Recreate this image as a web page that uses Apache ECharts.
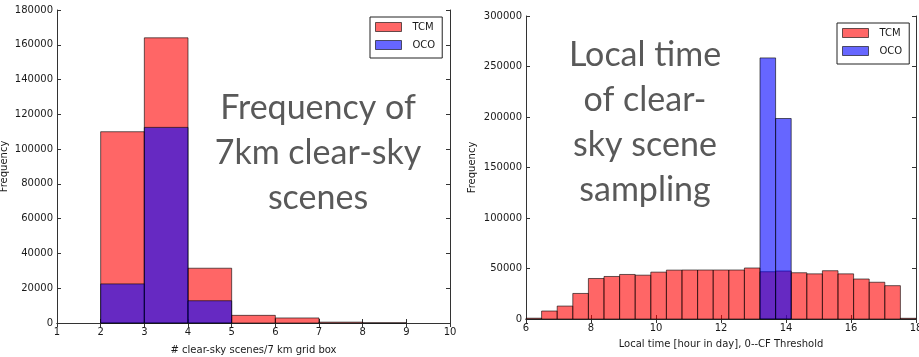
<!DOCTYPE html>
<html><head><meta charset="utf-8">
<script src="https://cdn.jsdelivr.net/npm/echarts@6/dist/echarts.min.js"></script>
<style>html,body{margin:0;padding:0;background:#fff}#c{width:919px;height:357px}</style>
</head><body><div id="c"></div>
<script>
// ---- Left panel: # clear-sky scenes per 7 km grid box ----
const leftBinEdges = [1, 2, 3, 4, 5, 6, 7, 8, 9, 10];
const leftTCM = [0, 110000, 164000, 31500, 4400, 2900, 500, 100, 0];
const leftOCO = [0, 22500, 112500, 12800, 0, 0, 0, 0, 0];
const leftXTicks = [1, 10, 1];        // min, max, interval
const leftYTicks = [0, 180000, 20000];

// ---- Right panel: local time of clear-sky scene sampling ----
const rightBinEdges = [6.00, 6.48, 6.96, 7.44, 7.92, 8.40, 8.88, 9.36, 9.84, 10.32, 10.80, 11.28, 11.76,
  12.24, 12.72, 13.20, 13.68, 14.16, 14.64, 15.12, 15.60, 16.08, 16.56, 17.04, 17.52, 18.00];
const rightTCM = [800, 7900, 12800, 25300, 40100, 42100, 44100, 43400, 46400, 48400, 48500, 48500, 48500,
  48500, 50500, 46800, 47500, 45800, 44700, 47800, 44700, 39600, 36400, 33000, 700];
const rightOCO = [0, 0, 0, 0, 0, 0, 0, 0, 0, 0, 0, 0, 0, 0, 0, 258500, 198500, 0, 0, 0, 0, 0, 0, 0, 0];
const rightXTicks = [6, 18, 2];
const rightYTicks = [0, 300000, 50000];

const seriesNames = ['TCM', 'OCO'];
const leftTitle = 'Frequency of\n7km clear-sky\nscenes';
const rightTitle = 'Local time\nof clear-\nsky scene\nsampling';

const RED = 'rgba(255,0,0,0.6)', BLUE = 'rgba(0,0,255,0.6)', EDGE = 'rgba(0,0,0,0.6)';
const TICKFONT = {fontFamily: 'DejaVu Sans', fontSize: 10, color: '#1a1a1a'};
const FRAME = '#333';
const plain = v => String(v);

function bins(edges, vals) {
  const out = [];
  for (let i = 0; i < vals.length; i++) out.push([edges[i], edges[i + 1], vals[i]]);
  return out;
}
function renderer(fill) {
  return function (params, api) {
    const y = api.value(2);
    if (!y) return null;
    const p0 = api.coord([api.value(0), y]);
    const p1 = api.coord([api.value(1), 0]);
    return {type: 'rect', shape: {x: p0[0], y: p0[1], width: p1[0] - p0[0], height: p1[1] - p0[1]},
      style: {fill: fill, stroke: EDGE, lineWidth: 1}};
  };
}
function xAxes(g, t, name, gap) {
  const base = {type: 'value', gridIndex: g, min: t[0], max: t[1], interval: t[2], splitLine: {show: false},
    axisLine: {show: true, lineStyle: {color: FRAME, width: 1}},
    axisTick: {show: true, inside: true, length: 4, lineStyle: {color: FRAME}}};
  return [
    Object.assign({}, base, {position: 'bottom', name: name, nameLocation: 'middle', nameGap: gap,
      nameTextStyle: TICKFONT, axisLabel: Object.assign({margin: 4, formatter: plain}, TICKFONT)}),
    Object.assign({}, base, {position: 'top', axisLabel: {show: false}})
  ];
}
function yAxes(g, t, gap) {
  const base = {type: 'value', gridIndex: g, min: t[0], max: t[1], interval: t[2], splitLine: {show: false},
    axisLine: {show: true, onZero: false, lineStyle: {color: FRAME, width: 1}},
    axisTick: {show: true, inside: true, length: 4, lineStyle: {color: FRAME}}};
  return [
    Object.assign({}, base, {position: 'left', name: 'Frequency', nameLocation: 'middle', nameGap: gap,
      nameRotate: 90, nameTextStyle: TICKFONT, axisLabel: Object.assign({margin: 4, formatter: plain}, TICKFONT)}),
    Object.assign({}, base, {position: 'right', axisLabel: {show: false}})
  ];
}
function legend(left, top) {
  return {left: left, top: top, orient: 'vertical', data: seriesNames, icon: 'rect',
    itemWidth: 26, itemHeight: 9, itemGap: 8, padding: [5, 7, 8, 5],
    borderColor: '#222', borderWidth: 1, backgroundColor: '#fff',
    itemStyle: {borderColor: EDGE, borderWidth: 1},
    textStyle: {fontFamily: 'DejaVu Sans', fontSize: 10, color: '#1a1a1a', padding: [0, 0, 0, 6]},
    selectedMode: false};
}

const chart = echarts.init(document.getElementById('c'), null, {renderer: 'canvas'});
chart.setOption({
  backgroundColor: '#fff',
  animation: false,
  grid: [
    {left: 57, top: 10, width: 393, height: 313, containLabel: false, outerBoundsMode: 'none'},
    {left: 526, top: 16, width: 390, height: 303, containLabel: false, outerBoundsMode: 'none'}
  ],
  xAxis: [].concat(xAxes(0, leftXTicks, '# clear-sky scenes/7 km grid box', 22),
                   xAxes(1, rightXTicks, 'Local time [hour in day], 0--CF Threshold', 20)),
  yAxis: [].concat(yAxes(0, leftYTicks, 48), yAxes(1, rightYTicks, 49)),
  legend: [legend(370, 17), legend(837, 23)],
  series: [
    {type: 'custom', name: 'TCM', xAxisIndex: 0, yAxisIndex: 0, renderItem: renderer(RED),
      itemStyle: {color: RED}, encode: {x: [0, 1], y: 2}, data: bins(leftBinEdges, leftTCM), z: 2},
    {type: 'custom', name: 'OCO', xAxisIndex: 0, yAxisIndex: 0, renderItem: renderer(BLUE),
      itemStyle: {color: BLUE}, encode: {x: [0, 1], y: 2}, data: bins(leftBinEdges, leftOCO), z: 3},
    {type: 'custom', name: 'TCM', xAxisIndex: 2, yAxisIndex: 2, renderItem: renderer(RED),
      itemStyle: {color: RED}, encode: {x: [0, 1], y: 2}, data: bins(rightBinEdges, rightTCM), z: 2},
    {type: 'custom', name: 'OCO', xAxisIndex: 2, yAxisIndex: 2, renderItem: renderer(BLUE),
      itemStyle: {color: BLUE}, encode: {x: [0, 1], y: 2}, data: bins(rightBinEdges, rightOCO), z: 3}
  ],
  graphic: [
    {type: 'text', z: 10, x: 318, y: 86, style: {text: leftTitle, fill: '#595959',
      font: '34px Lato', lineHeight: 45, align: 'center', verticalAlign: 'top'}},
    {type: 'text', z: 10, x: 645, y: 33, style: {text: rightTitle, fill: '#595959',
      font: '34px Lato', lineHeight: 45, align: 'center', verticalAlign: 'top'}}
  ]
});
</script></body></html>
